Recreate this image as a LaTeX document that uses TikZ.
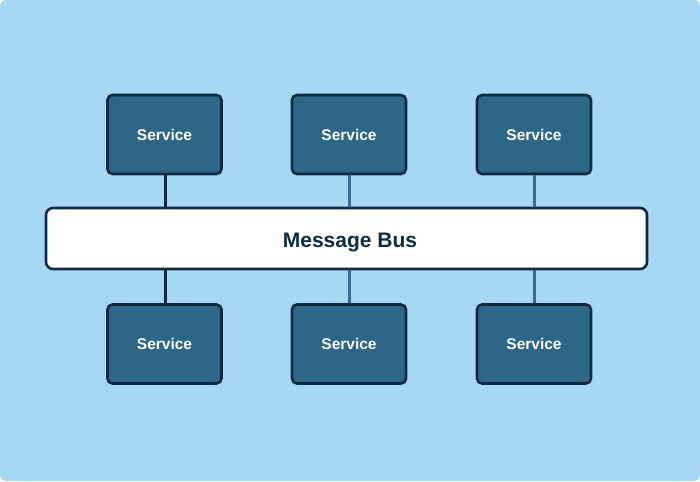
\documentclass[tikz,border=0pt]{standalone}
\usepackage{fontspec}
\setmainfont{Liberation Sans}
\definecolor{bg}{HTML}{A6D8F4}
\definecolor{svcfill}{HTML}{2E6688}
\definecolor{navy}{HTML}{0F2A44}
\definecolor{lightline}{HTML}{376C94}
\begin{document}
\begin{tikzpicture}[x=1pt,y=-1pt,
  service/.style={draw=navy, line width=2.6pt, fill=svcfill, rounded corners=5pt,
    minimum width=114pt, minimum height=79pt, text=white, font=\fontsize{15.5}{18}\selectfont\bfseries, inner sep=0pt},
  bus/.style={draw=navy, line width=2.6pt, fill=white, rounded corners=7pt,
    minimum width=601pt, minimum height=61pt, inner sep=0pt},
  buslabel/.style={text=navy, font=\fontsize{21}{25}\selectfont\bfseries, inner sep=0pt},
  darklink/.style={draw=navy, line width=2.8pt},
  lightlink/.style={draw=lightline, line width=3pt}]
\useasboundingbox (0,0) rectangle (700,481);
\fill[white] (0,0) rectangle (700,481);
\fill[bg, rounded corners=6pt] (0,0) rectangle (700,481);
\node[bus] (bus) at (346.5,238.5) {};
\node[buslabel] (buslbl) at (350,242.5) {Message Bus};
\node[service] (t1) at (164.5,134.5) {Service};
\node[service] (t2) at (349,134.5) {Service};
\node[service] (t3) at (534,134.5) {Service};
\node[service] (b1) at (164.5,344) {Service};
\node[service] (b2) at (349,344) {Service};
\node[service] (b3) at (534,344) {Service};
\draw[darklink] ([xshift=1pt]t1.south) -- ([xshift=1pt]t1.south |- bus.north);
\draw[lightlink] (t2.south) -- (t2.south |- bus.north);
\draw[lightlink] (t3.south) -- (t3.south |- bus.north);
\draw[darklink] ([xshift=1pt]b1.north) -- ([xshift=1pt]b1.north |- bus.south);
\draw[lightlink] (b2.north) -- (b2.north |- bus.south);
\draw[lightlink] (b3.north) -- (b3.north |- bus.south);
\end{tikzpicture}
\end{document}
